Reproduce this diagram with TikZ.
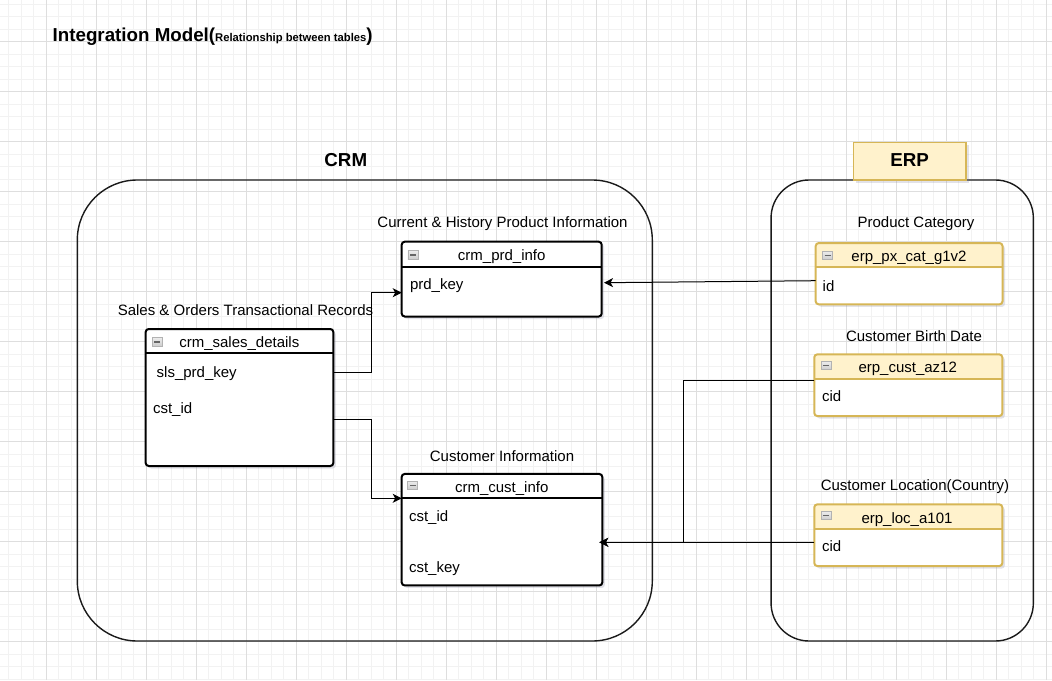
\documentclass[tikz,border=0pt]{standalone}
\usepackage{fontspec}
\setmainfont{Liberation Sans}
\usetikzlibrary{arrows.meta,calc,shadows}
\definecolor{gridminor}{HTML}{F2F2F2}
\definecolor{gridmajor}{HTML}{DEDEDE}
\definecolor{erpfill}{HTML}{FFF2CC}
\definecolor{erpline}{HTML}{D6B656}
\definecolor{edgeink}{HTML}{1A1A1A}
\definecolor{shade}{HTML}{7F7F9A}
\begin{document}
\begin{tikzpicture}[x=1pt,y=-1pt,
  every node/.style={inner sep=0pt,outer sep=0pt},
  txt/.style={font=\fontsize{15}{18}\selectfont},
  lbl/.style={txt,anchor=base},
  rowtxt/.style={txt,anchor=base west},
  headtxt/.style={font=\fontsize{18.75}{22}\selectfont\bfseries,anchor=base},
  softshadow/.style={drop shadow={shadow xshift=2.5pt,shadow yshift=-2.5pt,opacity=0.22,fill=shade}},
  groupbox/.style={draw=edgeink,line width=1.4pt},
  crmtbl/.style={draw=black,line width=2pt,fill=white,rounded corners=3pt,softshadow},
  erptbl/.style={draw=erpline,line width=2pt,fill=white,rounded corners=3pt,softshadow,
    path picture={\fill[erpfill] (path picture bounding box.north west) rectangle ([yshift=-25pt]path picture bounding box.north east);}},
  icon/.style={draw=gray!60,top color=gray!15,bottom color=gray!40,line width=0.7pt,minimum width=10pt,minimum height=8.5pt,
    path picture={\draw[black!60,line width=1.3pt] ([xshift=2pt]path picture bounding box.west) -- ([xshift=-2pt]path picture bounding box.east);}},
  conn/.style={draw=black,line width=1pt,-{Stealth[length=9pt,width=9pt,inset=2.5pt]}}
]
\useasboundingbox (0,0) rectangle (1052,680);
\clip (0,0) rectangle (1052,680);
\fill[white] (0,0) rectangle (1052,680);

% background grid
\foreach \k in {0,...,84} \draw[gridminor,line width=1pt] ({8.5+12.5*\k},0) -- ({8.5+12.5*\k},680);
\foreach \k in {0,...,54} \draw[gridminor,line width=1pt] (0,{4+12.5*\k}) -- (1052,{4+12.5*\k});
\foreach \k in {0,...,20} \draw[gridmajor,line width=1pt] ({46+50*\k},0) -- ({46+50*\k},680);
\foreach \k in {0,...,12} \draw[gridmajor,line width=1pt] (0,{41.5+50*\k}) -- (1052,{41.5+50*\k});

% title
\node[anchor=base west,font=\fontsize{18.75}{22}\selectfont\bfseries] (title) at (52.7,41)
  {Integration Model({\fontsize{11.25}{13}\selectfont Relationship between tables})};

% system groups
\node[groupbox,rounded corners=60pt,minimum width=575pt,minimum height=461pt] (crm) at (364.8,410.5) {};
\node[groupbox,rounded corners=38pt,minimum width=262.3pt,minimum height=461pt] (erp) at (902.2,410.5) {};
\node[headtxt] (crmlbl) at (345.8,166) {CRM};
\node[draw=erpline,fill=erpfill,line width=1.5pt,minimum width=112.7pt,minimum height=37.7pt,softshadow] (erpbox) at (909.7,161.2) {};
\node[headtxt] (erplbl) at (909.7,166.7) {ERP};

% CRM tables
\node[crmtbl,minimum width=200pt,minimum height=74.8pt] (prd) at (501.7,279.1) {};
\draw[black,line width=2pt] ($(prd.north west)+(0,25)$) -- ($(prd.north east)+(0,25)$);
\node[icon] (prdicon) at ($(prd.north west)+(11.2,13.3)$) {};
\node[lbl] (prdtitle) at (501.7,260) {crm\_prd\_info};
\node[rowtxt] (prdkey) at (410,289) {prd\_key};
\node[lbl] (prdlbl) at (502.5,227) {Current \& History Product Information};

\node[crmtbl,minimum width=187.6pt,minimum height=137pt] (sales) at (239.5,397.5) {};
\draw[black,line width=2pt] ($(sales.north west)+(0,24.3)$) -- ($(sales.north east)+(0,24.3)$);
\node[icon] (salesicon) at ($(sales.north west)+(11.6,13)$) {};
\node[lbl] (salestitle) at (239.3,347) {crm\_sales\_details};
\node[rowtxt] (salesprd) at (156.7,377) {sls\_prd\_key};
\node[rowtxt] (salescst) at (153,413) {cst\_id};
\node[lbl] (saleslbl) at (245.5,315.5) {Sales \& Orders Transactional Records};

\node[crmtbl,minimum width=200.6pt,minimum height=111.5pt] (cust) at (502,529.7) {};
\draw[black,line width=2pt] ($(cust.north west)+(0,24.3)$) -- ($(cust.north east)+(0,24.3)$);
\node[icon] (custicon) at ($(cust.north west)+(11.1,11.3)$) {};
\node[lbl] (custtitle) at (501.7,492) {crm\_cust\_info};
\node[rowtxt] (custid) at (409,521.7) {cst\_id};
\node[rowtxt] (custkey) at (409,572.3) {cst\_key};
\node[lbl] (custlbl) at (502,461) {Customer Information};

% ERP tables
\node[erptbl,minimum width=186.8pt,minimum height=61.3pt] (pxcat) at (909.1,273.7) {};
\draw[erpline,line width=2pt] ($(pxcat.north west)+(0,24.4)$) -- ($(pxcat.north east)+(0,24.4)$);
\node[icon] (pxicon) at ($(pxcat.north west)+(11.8,12.3)$) {};
\node[lbl] (pxtitle) at (909,261) {erp\_px\_cat\_g1v2};
\node[rowtxt] (pxid) at (822.7,291) {id};
\node[lbl] (pxlbl) at (916,227.7) {Product Category};

\node[erptbl,minimum width=188pt,minimum height=61.7pt] (az12) at (908.3,385.2) {};
\draw[erpline,line width=2pt] ($(az12.north west)+(0,25)$) -- ($(az12.north east)+(0,25)$);
\node[icon] (azicon) at ($(az12.north west)+(12,11.2)$) {};
\node[lbl] (aztitle) at (907.7,372.7) {erp\_cust\_az12};
\node[rowtxt] (azcid) at (822,401.7) {cid};
\node[lbl] (azlbl) at (914,341) {Customer Birth Date};

\node[erptbl,minimum width=188pt,minimum height=61.7pt] (loc) at (908.3,535.2) {};
\draw[erpline,line width=2pt] ($(loc.north west)+(0,24.7)$) -- ($(loc.north east)+(0,24.7)$);
\node[icon] (locicon) at ($(loc.north west)+(12,11.2)$) {};
\node[lbl] (loctitle) at (907,523.3) {erp\_loc\_a101};
\node[rowtxt] (loccid) at (822,551.7) {cid};
\node[lbl] (loclbl) at (915,490.7) {Customer Location(Country)};

% relationships
\draw[conn] ([yshift=24.8pt]sales.east) -- ++(37.7,0) |- ([yshift=-13.6pt]prd.west);
\draw[conn] ([yshift=-21.8pt]sales.east) -- ++(37.7,0) |- ([yshift=31.4pt]cust.west);
\draw[conn] ([yshift=-7pt]pxcat.west) -- ([xshift=2.3pt,yshift=-3.6pt]prd.east);
\draw[conn] ([yshift=5.2pt]az12.west) -- ++(-130.6,0) |- ([xshift=-3pt,yshift=-12.6pt]cust.east);
\draw[conn] ([yshift=-7.1pt]loc.west) -- ([xshift=-3pt,yshift=-12.6pt]cust.east);
\end{tikzpicture}
\end{document}
